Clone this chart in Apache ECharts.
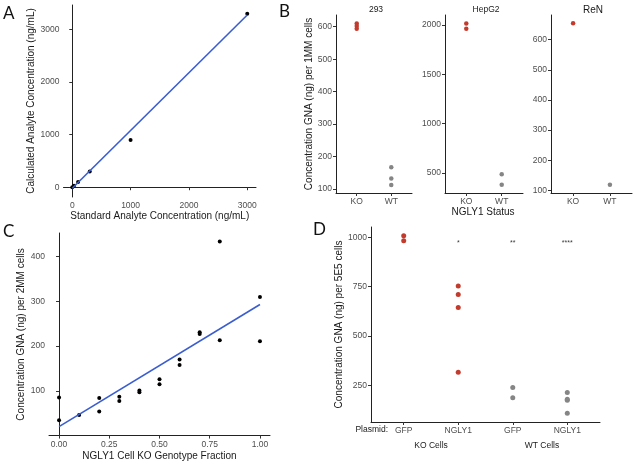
<!DOCTYPE html>
<html><head><meta charset="utf-8">
<script src="https://cdn.jsdelivr.net/npm/echarts@6/dist/echarts.min.js"></script>
<style>html,body{margin:0;padding:0;background:#fff}#c{width:634px;height:465px}</style>
</head><body><div id="c"></div>
<script>
// ---------- Panel A ----------
const aStdConc = [0, 30, 100, 300, 1000, 3000];
const aCalcConc = [0, 30, 100, 300, 900, 3300];
const aFitX = [0, 3000];
const aFitY = [-20, 3275];
const aTicks = [0, 1000, 2000, 3000];
// ---------- Panel B ----------
const bFacets = ['293', 'HepG2', 'ReN'];
const bStatus = ['KO', 'WT'];
const b293KO = [610, 602, 594];
const b293WT = [167, 133, 113];
const bHepKO = [2017, 1963];
const bHepWT = [487, 382];
const bRenKO = [655];
const bRenWT = [118];
const b293Ticks = [100, 200, 300, 400, 500, 600];
const bHepTicks = [500, 1000, 1500, 2000];
const bRenTicks = [100, 200, 300, 400, 500, 600];
// ---------- Panel C ----------
const cFraction = [0, 0, 0.1, 0.2, 0.2, 0.3, 0.3, 0.4, 0.4, 0.5, 0.5, 0.6, 0.6, 0.7, 0.7, 0.8, 0.8, 1.0, 1.0];
const cConc = [85, 34, 46, 84, 54, 87, 77, 101, 97, 126, 115, 170, 158, 231, 227, 434, 213, 310, 211];
const cFitX = [0, 1];
const cFitY = [20, 293];
const cYTicks = [100, 200, 300, 400];
const cXTicks = [0, 0.25, 0.5, 0.75, 1];
// ---------- Panel D ----------
const dPlasmid = ['GFP', 'NGLY1', 'GFP', 'NGLY1'];
const dCells = ['KO Cells', 'WT Cells'];
const dKoGfp = [1008, 983];
const dKoNgly1 = [754, 711, 645, 316];
const dWtGfp = [239, 187];
const dWtNgly1 = [213, 180, 174, 109];
const dStars = ['', '*', '**', '****'];
const dYTicks = [250, 500, 750, 1000];

const RED = '#c23b2c', GREY = '#858585', BLUE = '#3a5dd0';
const FONT = '"Liberation Sans", Arial, sans-serif';
const LETTER = 'Lato, "Open Sans", sans-serif';
const axisLine = {show: true, lineStyle: {color: '#222', width: 1}};
const axisTick = (vals) => ({show: true, length: 3, lineStyle: {color: '#333'}, customValues: vals});
const plain = v => String(v);
const lbl = (vals, size, fmt) => ({show: true, color: '#4d4d4d', fontSize: size, fontFamily: FONT, margin: 4, customValues: vals, formatter: fmt || plain});

function yAx(gi, min, max, ticks, size, name, gap) {
  return {type: 'value', gridIndex: gi, min, max, axisLine, axisTick: axisTick(ticks),
    axisLabel: lbl(ticks, size), splitLine: {show: false},
    name: name || '', nameLocation: 'middle', nameGap: gap || 0,
    nameTextStyle: {fontSize: 10, color: '#1a1a1a', fontFamily: FONT}};
}
function xAx(gi, min, max, ticks, size, fmt, name, gap) {
  return {type: 'value', gridIndex: gi, min, max, axisLine, axisTick: axisTick(ticks),
    axisLabel: lbl(ticks, size, fmt), splitLine: {show: false},
    name: name || '', nameLocation: 'middle', nameGap: gap || 0,
    nameTextStyle: {fontSize: 10, color: '#1a1a1a', fontFamily: FONT}};
}
const pts = (xs, ys) => xs.map((x, i) => [x, ys[i]]);
const grp = (x, ys) => ys.map(y => [x, y]);
const scat = (gi, data, color, size) => ({type: 'scatter', xAxisIndex: gi, yAxisIndex: gi, data, symbolSize: size, itemStyle: {color, opacity: 1}, silent: true});
const fit = (gi, data) => ({type: 'line', xAxisIndex: gi, yAxisIndex: gi, data, symbol: 'none', lineStyle: {color: BLUE, width: 1.6}, silent: true});
const catFmt = (cats) => (v) => cats[Math.round(v) - 1] || '';

const option = {
  animation: false,
  grid: [
    {left: 63.5, top: 5, width: 192.5, height: 192},
    {left: 336, top: 15, width: 76, height: 178},
    {left: 445, top: 15, width: 78, height: 178},
    {left: 551, top: 15, width: 81, height: 178},
    {left: 49, top: 233, width: 221, height: 203},
    {left: 371, top: 227, width: 229, height: 195}
  ],
  xAxis: [
    xAx(0, -150, 3150, aTicks, 8.5, null, 'Standard Analyte Concentration (ng/mL)', 13),
    xAx(1, 0.4, 2.6, [1, 2], 8.5, catFmt(bStatus)),
    xAx(2, 0.4, 2.6, [1, 2], 8.5, catFmt(bStatus)),
    xAx(3, 0.4, 2.6, [1, 2], 8.5, catFmt(bStatus)),
    xAx(4, -0.05, 1.05, cXTicks, 8.5, v => v.toFixed(2), 'NGLY1 Cell KO Genotype Fraction', 15),
    xAx(5, 0.4, 4.6, [1, 2, 3, 4], 8.5, catFmt(dPlasmid))
  ],
  yAxis: [
    yAx(0, -186, 3466, aTicks, 8.5, 'Calculated Analyte Concentration (ng/mL)', 25),
    yAx(1, 88, 636, b293Ticks, 8.5, 'Concentration GNA (ng) per 1MM cells', 22),
    yAx(2, 298, 2102, bHepTicks, 8.5),
    yAx(3, 91, 682, bRenTicks, 8.5),
    yAx(4, -1, 453, cYTicks, 8.5, 'Concentration GNA (ng) per 2MM cells', 23),
    yAx(5, 64, 1053, dYTicks, 8.5, 'Concentration GNA (ng) per 5E5 cells', 25)
  ],
  series: [
    fit(0, pts(aFitX, aFitY)),
    scat(0, pts(aStdConc, aCalcConc), '#000', 4),
    scat(1, grp(1, b293KO), RED, 4.5),
    scat(1, grp(2, b293WT), GREY, 4.5),
    scat(2, grp(1, bHepKO), RED, 4.5),
    scat(2, grp(2, bHepWT), GREY, 4.5),
    scat(3, grp(1, bRenKO), RED, 4.5),
    scat(3, grp(2, bRenWT), GREY, 4.5),
    fit(4, pts(cFitX, cFitY)),
    scat(4, pts(cFraction, cConc), '#000', 4),
    scat(5, grp(1, dKoGfp), RED, 5),
    scat(5, grp(2, dKoNgly1), RED, 5),
    scat(5, grp(3, dWtGfp), GREY, 5),
    scat(5, grp(4, dWtNgly1), GREY, 5),
    {type: 'scatter', xAxisIndex: 5, yAxisIndex: 5, symbolSize: 0, silent: true,
     data: dStars.map((s, i) => [i + 1, 972, s]),
     label: {show: true, position: 'inside', formatter: p => p.data[2], fontSize: 7, color: '#000', fontFamily: FONT}}
  ],
  graphic: [
    {type: 'text', left: 3, top: 5, style: {text: 'A', font: '17px ' + LETTER, fill: '#111'}},
    {type: 'text', left: 279, top: 3, style: {text: 'B', font: '17px ' + LETTER, fill: '#111'}},
    {type: 'text', left: 3, top: 223, style: {text: 'C', font: '17px ' + LETTER, fill: '#111'}},
    {type: 'text', left: 313, top: 221, style: {text: 'D', font: '17px ' + LETTER, fill: '#111'}},
    {type: 'text', x: 376, y: 10, style: {text: bFacets[0], font: '8.5px ' + FONT, fill: '#1a1a1a', align: 'center', verticalAlign: 'middle'}},
    {type: 'text', x: 486, y: 10, style: {text: bFacets[1], font: '8.5px ' + FONT, fill: '#1a1a1a', align: 'center', verticalAlign: 'middle'}},
    {type: 'text', x: 593, y: 10, style: {text: bFacets[2], font: '10px ' + FONT, fill: '#1a1a1a', align: 'center', verticalAlign: 'middle'}},
    {type: 'text', x: 483, y: 212, style: {text: 'NGLY1 Status', font: '10px ' + FONT, fill: '#1a1a1a', align: 'center', verticalAlign: 'middle'}},
    {type: 'text', x: 388, y: 430, style: {text: 'Plasmid:', font: '8.5px ' + FONT, fill: '#1a1a1a', align: 'right', verticalAlign: 'middle'}},
    {type: 'text', x: 431, y: 446, style: {text: dCells[0], font: '8.5px ' + FONT, fill: '#1a1a1a', align: 'center', verticalAlign: 'middle'}},
    {type: 'text', x: 542, y: 446, style: {text: dCells[1], font: '8.5px ' + FONT, fill: '#1a1a1a', align: 'center', verticalAlign: 'middle'}}
  ]
};
const chart = echarts.init(document.getElementById('c'), null, {renderer: 'canvas'});
chart.setOption(option);
</script></body></html>
